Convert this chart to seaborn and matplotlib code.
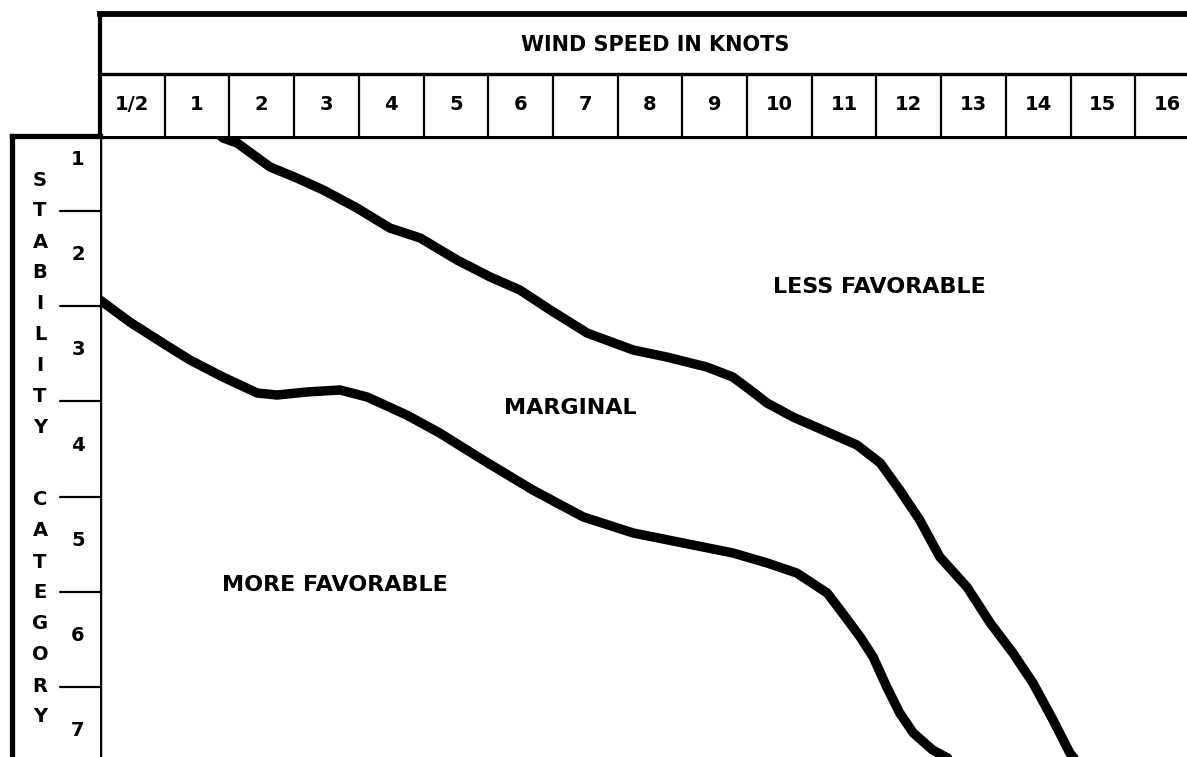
import matplotlib
matplotlib.use("Agg")
import matplotlib.pyplot as plt
import seaborn as sns
import numpy as np
import pandas as pd

# ---------------- data ----------------
wind_labels = ["1/2", "1", "2", "3", "4", "5", "6", "7", "8", "9", "10",
               "11", "12", "13", "14", "15", "16"]
stability_labels = ["1", "2", "3", "4", "5", "6", "7"]

# boundary between MARGINAL and LESS FAVORABLE (x in wind-speed cell units, y in stability units)
upper_x = [1.85, 1.90, 2.12, 2.63, 3.04, 3.45, 3.97, 4.48, 4.95, 5.52, 6.03, 6.49, 6.96,
           7.53, 8.24, 8.76, 9.38, 9.78, 10.05, 10.31, 10.71, 11.24, 11.70, 12.06,
           12.36, 12.67, 12.98, 13.40, 13.76, 14.11, 14.42, 14.73, 14.99, 15.07]
upper_y = [0.70, 0.733, 0.786, 1.038, 1.153, 1.279, 1.468, 1.679, 1.784, 2.015, 2.193,
           2.330, 2.540, 2.782, 2.960, 3.034, 3.139, 3.244, 3.380, 3.517, 3.664, 3.821,
           3.958, 4.147, 4.431, 4.746, 5.134, 5.450, 5.828, 6.143, 6.458, 6.847, 7.193, 7.26]

# boundary between MORE FAVORABLE and MARGINAL
lower_x = [0.0, 0.46, 0.97, 1.39, 1.90, 2.43, 2.74, 3.20, 3.71, 4.13, 4.74, 5.25, 5.92,
           6.69, 7.47, 8.24, 9.01, 9.78, 10.31, 10.77, 11.24, 11.44, 11.75, 11.95,
           12.16, 12.36, 12.57, 12.87, 13.14]
lower_y = [2.435, 2.666, 2.887, 3.065, 3.244, 3.412, 3.433, 3.401, 3.380, 3.454, 3.643,
           3.832, 4.116, 4.431, 4.714, 4.882, 4.987, 5.092, 5.197, 5.303, 5.513, 5.691,
           5.975, 6.185, 6.500, 6.773, 6.983, 7.162, 7.26]

region_labels = ["LESS FAVORABLE", "MARGINAL", "MORE FAVORABLE"]
region_x = [12.05, 7.27, 3.63]
region_y = [2.30, 3.57, 5.43]

axis_title_x = "WIND SPEED IN KNOTS"
axis_title_y = "STABILITY CATEGORY"

# ---------------- layout ----------------
W, H = 1187, 757
sns.set_theme(style="white")
plt.rcParams["font.family"] = ["DejaVu Sans"]
plt.rcParams["font.weight"] = "bold"
plt.rcParams["text.color"] = "black"

fig = plt.figure(figsize=(W / 100, H / 100), dpi=100)
fig.patch.set_facecolor("white")

px = lambda v: v / W
py = lambda v: v / H

main_left, main_top = 100, 136
ax = fig.add_axes([px(main_left), 0, px(W - main_left), py(H - main_top)])
ax_h = fig.add_axes([px(main_left), py(H - main_top), px(W - main_left), py(main_top - 14)],
                    sharex=ax)
ax_l = fig.add_axes([px(12), 0, px(main_left - 12), py(H - main_top)], sharey=ax)

xlim = (0, (W - main_left) / 64.7)
ylim = (1.5 + (H - 211) / 95.2, 1.5 + (main_top - 211) / 95.2)

# main curves
df_up = pd.DataFrame({"x": upper_x, "y": upper_y})
df_lo = pd.DataFrame({"x": lower_x, "y": lower_y})
for d in (df_up, df_lo):
    sns.lineplot(data=d, x="x", y="y", ax=ax, color="black", linewidth=6.8,
                 estimator=None, sort=False, solid_capstyle="round",
                 solid_joinstyle="round")

ax.set_xlim(*xlim)
ax.set_ylim(*ylim)
for lab, x, y in zip(region_labels, region_x, region_y):
    ax.text(x, y, lab, ha="center", va="center", fontsize=16, fontweight="bold",
            color="black")

for a in (ax, ax_h, ax_l):
    a.set_xticks([])
    a.set_yticks([])
    a.set_xlabel("")
    a.set_ylabel("")
    a.set_facecolor("white")
    for s in ("right", "bottom"):
        a.spines[s].set_visible(False)
    for s in ("left", "top"):
        a.spines[s].set_visible(True)
        a.spines[s].set_color("black")

ax.spines["left"].set_linewidth(3.2)
ax.spines["top"].set_linewidth(3.8)

# header
ax_h.set_ylim(0, 1)
ax_h.spines["top"].set_linewidth(4.2)
ax_h.spines["left"].set_linewidth(3.0)
sep = (main_top - 74) / (main_top - 14)
ax_h.axhline(sep, color="black", linewidth=2.4)
for i, lab in enumerate(wind_labels):
    if i > 0:
        ax_h.plot([i, i], [0, sep], color="black", linewidth=1.6)
    ax_h.text(i + 0.5, sep / 2, lab, ha="center", va="center", fontsize=14,
              fontweight="bold", color="black")
ax_h.text((655 - main_left) / (W - main_left), (main_top - 45) / (main_top - 14),
          axis_title_x, transform=ax_h.transAxes, ha="center", va="center",
          fontsize=15, fontweight="bold", color="black")

# left column
ax_l.set_xlim(0, 1)
ax_l.spines["left"].set_linewidth(3.8)
ax_l.spines["top"].set_linewidth(3.8)
tick_x0 = (60 - 12) / (main_left - 12)
for k, lab in enumerate(stability_labels):
    val = k + 1
    if k > 0:
        ax_l.plot([tick_x0, 1.0], [val - 0.5, val - 0.5], color="black", linewidth=1.6)
    ax_l.text((78 - 12) / (main_left - 12), val - 0.04, lab, ha="center", va="center",
              fontsize=14, fontweight="bold", color="black")

words = axis_title_y.split(" ")
starts = [180, 500]
letter_x = (40 - 12) / (main_left - 12)
for w, s0 in zip(words, starts):
    for k, ch in enumerate(w):
        ypx = s0 + 31 * k
        yv = 1.5 + (ypx - 211) / 95.2
        ax_l.text(letter_x, yv, ch, ha="center", va="center", fontsize=14,
                  fontweight="bold", color="black")

fig.savefig("out.png", dpi=100, facecolor="white")
